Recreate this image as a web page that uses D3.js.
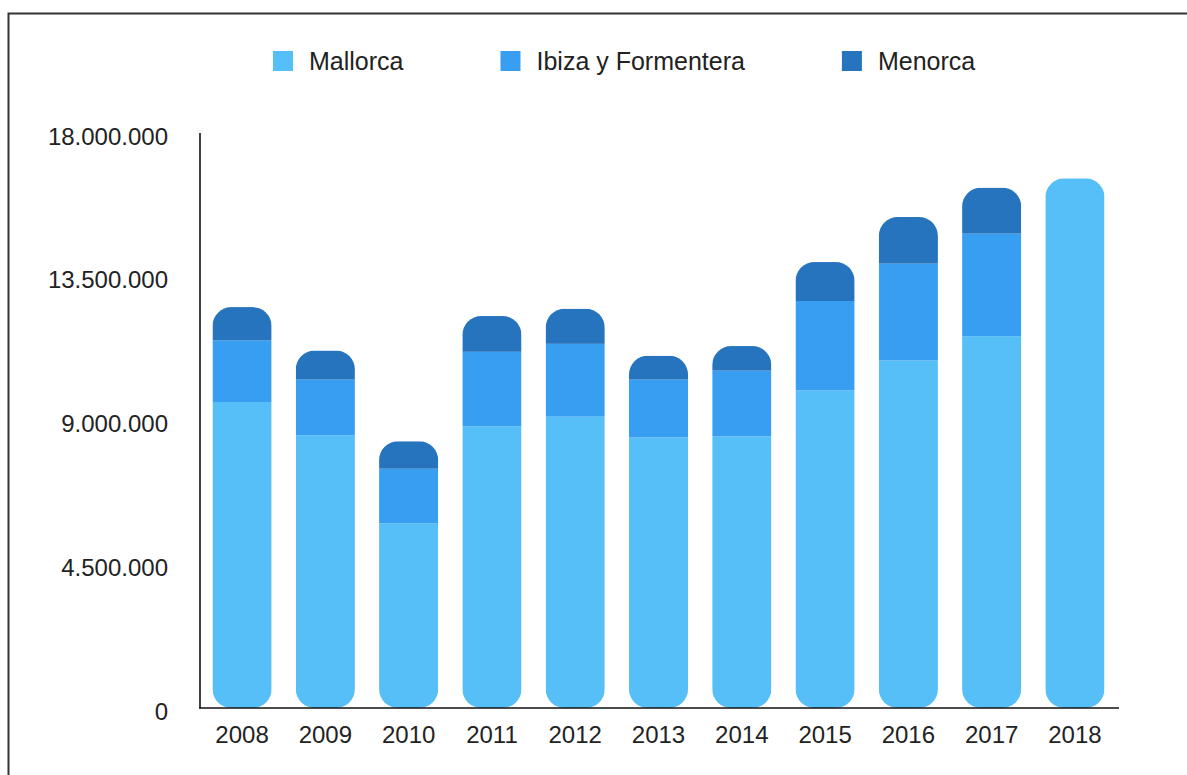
<!DOCTYPE html>
<html>
<head>
<meta charset="utf-8">
<script src="https://cdn.jsdelivr.net/npm/d3@7/dist/d3.min.js"></script>
<style>
  html, body { margin: 0; padding: 0; background: #fff; }
  svg { display: block; }
  text { font-family: "Liberation Sans", Arial, Helvetica, sans-serif; fill: #222; }
</style>
</head>
<body>
<svg id="chart" width="1187" height="775"></svg>
<script>
const years = ["2008","2009","2010","2011","2012","2013","2014","2015","2016","2017","2018"];
const seriesNames = ["Mallorca", "Ibiza y Formentera", "Menorca"];
const mallorca = [9580000, 8540000, 5780000, 8820000, 9120000, 8470000, 8500000, 9940000, 10880000, 11640000, 16580000];
const ibiza    = [1930000, 1740000, 1710000, 2330000, 2280000, 1810000, 2060000, 2800000, 3030000, 3210000, 0];
const menorca  = [1040000, 910000, 860000, 1120000, 1100000, 750000, 770000, 1220000, 1460000, 1440000, 0];
const yTicks = [0, 4500000, 9000000, 13500000, 18000000];
const colors = ["#56bff7", "#379ef1", "#2774be"];

const svg = d3.select("#chart");

// outer frame (cut off at right and bottom like the reference)
svg.append("rect")
  .attr("x", 8.5).attr("y", 13.5)
  .attr("width", 1300).attr("height", 900)
  .attr("fill", "none").attr("stroke", "#333").attr("stroke-width", 2);

const rows = years.map((yr, i) => ({
  year: yr,
  "Mallorca": mallorca[i],
  "Ibiza y Formentera": ibiza[i],
  "Menorca": menorca[i]
}));

const x = d3.scaleBand().domain(years).range([200, 1117]).paddingInner(0.29).paddingOuter(0.15);
const y = d3.scaleLinear().domain([0, 18000000]).range([708, 133]);
const color = d3.scaleOrdinal().domain(seriesNames).range(colors);

const stacked = d3.stack().keys(seriesNames)(rows);

// clip paths: whole stacked bar rounded
const defs = svg.append("defs");
rows.forEach((r, i) => {
  const total = mallorca[i] + ibiza[i] + menorca[i];
  defs.append("clipPath").attr("id", "clip" + i)
    .append("rect")
    .attr("x", x(r.year))
    .attr("y", y(total))
    .attr("width", x.bandwidth())
    .attr("height", y(0) - y(total))
    .attr("rx", 19).attr("ry", 19);
});

const barsG = svg.append("g");
stacked.forEach(layer => {
  barsG.append("g").attr("fill", color(layer.key))
    .selectAll("rect")
    .data(layer)
    .join("rect")
    .attr("clip-path", (d, i) => "url(#clip" + i + ")")
    .attr("x", d => x(d.data.year))
    .attr("y", d => y(d[1]))
    .attr("width", x.bandwidth())
    .attr("height", d => Math.max(0, y(d[0]) - y(d[1])));
});

// axes
const fmt = v => v === 0 ? "0" : d3.format(",")(v).replace(/,/g, ".");
const yAxis = d3.axisLeft(y).tickValues(yTicks).tickFormat(fmt).tickSize(0).tickPadding(32);
const yg = svg.append("g").attr("transform", "translate(200,0)").call(yAxis);
yg.select(".domain").remove();
yg.selectAll("text").attr("font-size", 24).attr("dy", "0.38em")
  .attr("font-family", "Liberation Sans, Arial, sans-serif").attr("fill", "#222")
  .attr("transform", "translate(0,2)");

const xAxis = d3.axisBottom(x).tickSize(0).tickPadding(18);
const xg = svg.append("g").attr("transform", "translate(0,708)").call(xAxis);
xg.select(".domain").remove();
xg.selectAll("text").attr("font-size", 24)
  .attr("font-family", "Liberation Sans, Arial, sans-serif").attr("fill", "#222");

// axis lines
svg.append("line").attr("x1", 200).attr("x2", 200).attr("y1", 133).attr("y2", 708.5)
  .attr("stroke", "#111").attr("stroke-width", 1.6);
svg.append("line").attr("x1", 199.2).attr("x2", 1119).attr("y1", 708).attr("y2", 708)
  .attr("stroke", "#111").attr("stroke-width", 1.6);

// legend
const legend = svg.append("g");
let lx = 273;
seriesNames.forEach(name => {
  legend.append("rect").attr("x", lx).attr("y", 51).attr("width", 20).attr("height", 20)
    .attr("fill", color(name));
  const t = legend.append("text").attr("x", lx + 36).attr("y", 61).attr("dy", "0.36em")
    .attr("font-size", 25).text(name);
  lx += 36 + t.node().getComputedTextLength() + 97;
});
</script>
</body>
</html>
